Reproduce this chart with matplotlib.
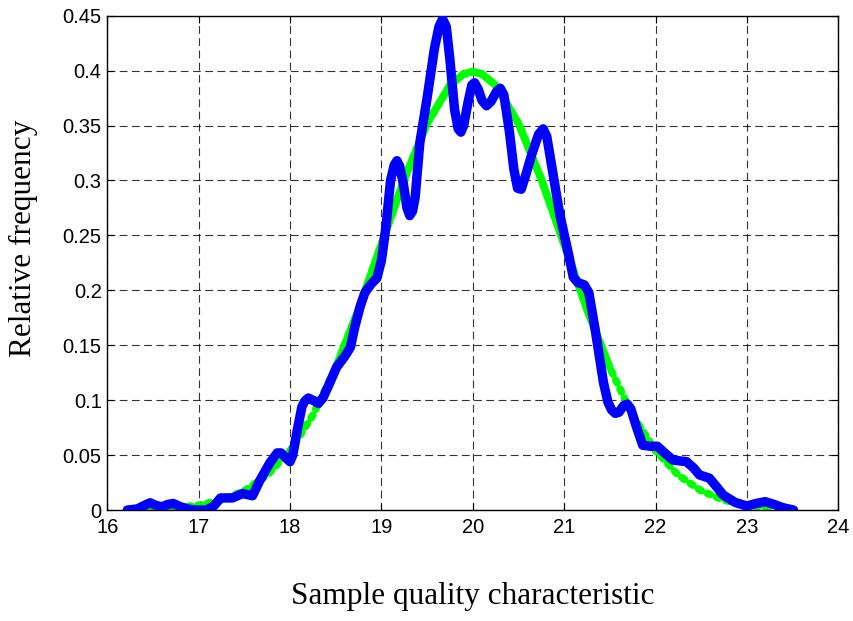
import numpy as np
import matplotlib
matplotlib.use("Agg")
import matplotlib.pyplot as plt

blue_x = [16.22, 16.33, 16.4, 16.47, 16.54, 16.6, 16.66, 16.72, 16.8, 16.88,
          16.95, 17.09, 17.17, 17.24, 17.37, 17.48, 17.59, 17.67, 17.78, 17.86,
          17.9, 17.95, 18.0, 18.03, 18.08, 18.13, 18.16, 18.2, 18.25, 18.31,
          18.36, 18.42, 18.51, 18.6, 18.66, 18.71, 18.77, 18.82, 18.89, 18.95,
          19.0, 19.05, 19.1, 19.14, 19.17, 19.2, 19.24, 19.28, 19.31, 19.34,
          19.37, 19.42, 19.5, 19.58, 19.63, 19.67, 19.71, 19.75, 19.8, 19.84,
          19.87, 19.9, 19.95, 19.99, 20.02, 20.06, 20.1, 20.15, 20.2, 20.26,
          20.3, 20.34, 20.4, 20.45, 20.49, 20.53, 20.58, 20.65, 20.72, 20.77,
          20.81, 20.87, 20.95, 21.05, 21.1, 21.15, 21.22, 21.27, 21.34, 21.43,
          21.48, 21.52, 21.56, 21.6, 21.65, 21.69, 21.73, 21.79, 21.86, 21.95,
          22.02, 22.1, 22.19, 22.34, 22.42, 22.48, 22.59, 22.66, 22.74, 22.87,
          23.0, 23.1, 23.2, 23.3, 23.4, 23.51]
blue_y = [0.0, 0.001, 0.004, 0.0066, 0.004, 0.003, 0.005, 0.006, 0.003, 0.001,
          0.0, 0.0, 0.004, 0.011, 0.011, 0.015, 0.013, 0.027, 0.043, 0.052,
          0.052, 0.048, 0.044, 0.05, 0.073, 0.094, 0.099, 0.102, 0.1, 0.097,
          0.102, 0.113, 0.13, 0.14, 0.148, 0.167, 0.186, 0.198, 0.206, 0.211,
          0.227, 0.258, 0.3, 0.314, 0.318, 0.313, 0.297, 0.275, 0.268, 0.272,
          0.285, 0.334, 0.375, 0.42, 0.44, 0.447, 0.44, 0.41, 0.365, 0.347,
          0.344, 0.35, 0.372, 0.387, 0.389, 0.383, 0.373, 0.368, 0.372, 0.381,
          0.384, 0.378, 0.345, 0.31, 0.293, 0.292, 0.305, 0.325, 0.342, 0.347,
          0.34, 0.31, 0.27, 0.232, 0.212, 0.207, 0.205, 0.198, 0.164, 0.116,
          0.098, 0.091, 0.088, 0.089, 0.095, 0.0965, 0.092, 0.076, 0.059, 0.058,
          0.058, 0.052, 0.0455, 0.044, 0.038, 0.032, 0.029, 0.022, 0.0137, 0.007,
          0.0036, 0.006, 0.0076, 0.005, 0.002, 0.0]

# green curve: fitted normal density
green_x = [16.45, 16.75, 17.0, 17.25, 17.5, 17.75, 18.0, 18.25, 18.5, 18.75,
           19.0, 19.25, 19.5, 19.75, 19.9, 20.0, 20.1, 20.25, 20.5, 20.75,
           21.0, 21.25, 21.5, 21.75, 22.0, 22.25, 22.5, 22.75, 23.0, 23.28]
green_y = [0.0007, 0.002, 0.0044, 0.009, 0.0175, 0.0317, 0.054, 0.0863, 0.1295, 0.1826,
           0.242, 0.3011, 0.352, 0.3867, 0.397, 0.399, 0.397, 0.3867, 0.352, 0.3011,
           0.242, 0.1826, 0.1295, 0.0863, 0.054, 0.0317, 0.0175, 0.009, 0.0044, 0.0018]

x_ticks = [16, 17, 18, 19, 20, 21, 22, 23, 24]
y_ticks = [0, 0.05, 0.1, 0.15, 0.2, 0.25, 0.3, 0.35, 0.4, 0.45]

fig = plt.figure(figsize=(8.54, 6.21), dpi=100)
ax = fig.add_axes([0.1256, 0.1787, 0.856, 0.796])

gx = np.array(green_x)
gy = np.array(green_y)
mid = (gx >= 18.4) & (gx <= 21.6)
ax.plot(gx, gy, color="#00ff00", lw=5.5, linestyle=(0, (0.4, 0.9)),
        dash_capstyle="round", zorder=2)
ax.plot(gx[mid], gy[mid], color="#00ff00", lw=5.5, solid_capstyle="round", zorder=2)

ax.plot(blue_x, blue_y, color="#0000ff", lw=6.8, solid_joinstyle="round",
        solid_capstyle="round", zorder=3)

ax.set_xlim(16, 24)
ax.set_ylim(0, 0.45)
ax.set_xticks(x_ticks)
ax.set_yticks(y_ticks)
ax.set_xticklabels([f"{v:g}" for v in x_ticks])
ax.set_yticklabels([f"{v:g}" for v in y_ticks])

ax.grid(True, color="black", lw=0.8, linestyle=(0, (7, 4)), alpha=0.8)
ax.tick_params(direction="in", top=True, right=True, length=5, width=0.8,
               labelsize=14.5, pad=6)
ax.tick_params(axis="y", pad=4)
for lab in ax.get_xticklabels() + ax.get_yticklabels():
    lab.set_family("Liberation Sans")
for s in ax.spines.values():
    s.set_linewidth(1.0)

ax.set_xlabel("Sample quality characteristic", family="Liberation Serif", fontsize=22.5)
ax.set_ylabel("Relative frequency", family="Liberation Serif", fontsize=22.5)
ax.xaxis.set_label_coords(0.5, -0.145)
ax.yaxis.set_label_coords(-0.095, 0.55)

fig.savefig("out.png", dpi=100)
